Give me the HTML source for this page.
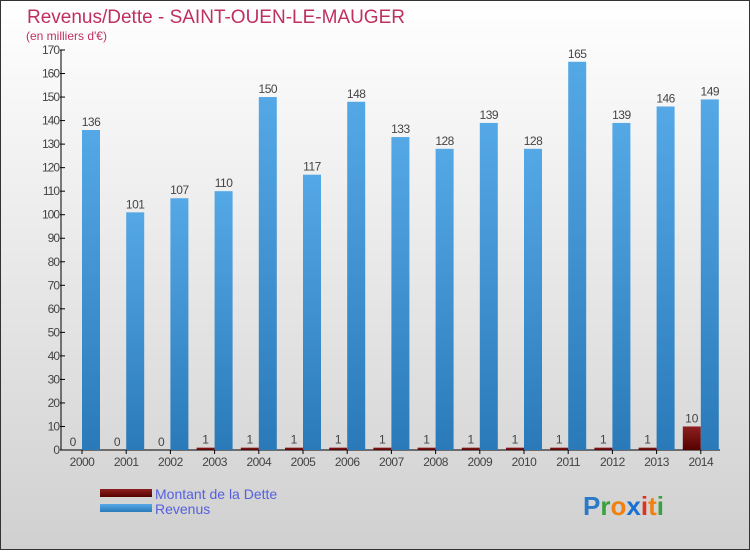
<!DOCTYPE html>
<html><head><meta charset="utf-8"><style>
body{margin:0}
#c{width:750px;height:550px;position:relative;font-family:"Liberation Sans",sans-serif}
</style></head><body>
<div id="c">
<svg width="750" height="550" xmlns="http://www.w3.org/2000/svg" id="svg">
<defs>
<linearGradient id="bg" x1="0" y1="0" x2="0" y2="1"><stop offset="0" stop-color="#ffffff"/><stop offset="1" stop-color="#d0d0d0"/></linearGradient>
<linearGradient id="rev" x1="0" y1="0" x2="0" y2="1"><stop offset="0" stop-color="#55a8e6"/><stop offset="1" stop-color="#2a7ab9"/></linearGradient>
<linearGradient id="debt" x1="0" y1="0" x2="0" y2="1"><stop offset="0" stop-color="#8e2020"/><stop offset="1" stop-color="#560000"/></linearGradient>
</defs>
<rect x="0.5" y="0.5" width="749" height="549" fill="url(#bg)" stroke="#333"/>
<text x="27" y="23" font-size="19" fill="#c0305f">Revenus/Dette - SAINT-OUEN-LE-MAUGER</text>
<text x="26" y="40" font-size="12" fill="#c0305f">(en milliers d'€)</text>
<g id="plot"></g>
<rect x="100" y="489" width="52" height="8" fill="url(#debt)"/>
<rect x="100" y="504" width="52" height="8" fill="url(#rev)"/>
<text x="155" y="499" font-size="14" fill="#5560e0">Montant de la Dette</text>
<text x="155" y="514" font-size="14" fill="#5560e0">Revenus</text>
<text x="583" y="515" font-size="26" font-weight="bold"><tspan fill="#2a7ac8">P</tspan><tspan fill="#3aa040">r</tspan><tspan fill="#f08010">o</tspan><tspan fill="#1a70d0">x</tspan><tspan fill="#e03020">i</tspan><tspan fill="#f08010">t</tspan><tspan fill="#3aa040">i</tspan></text>
</svg>
</div>
<script>
const years=["2000","2001","2002","2003","2004","2005","2006","2007","2008","2009","2010","2011","2012","2013","2014"];
const debt=[0,0,0,1,1,1,1,1,1,1,1,1,1,1,10];
const revenue=[136,101,107,110,150,117,148,133,128,139,128,165,139,146,149];
const yTicks=[0,10,20,30,40,50,60,70,80,90,100,110,120,130,140,150,160,170];
const NS="http://www.w3.org/2000/svg";
const g=document.getElementById('plot');
const y0=450,yMax=170,h=400,x0=61,step=44.2,first=82,bw=18;
const Y=v=>y0-v/yMax*h;
const X=i=>first+i*step;
function mk(t,a,txt){const e=document.createElementNS(NS,t);for(const k in a)e.setAttribute(k,a[k]);if(txt!==undefined)e.textContent=txt;g.appendChild(e);return e;}
let ax=mk('line',{x1:x0,y1:Y(yMax),x2:x0,y2:y0,stroke:'#000'});


let bx=mk('line',{x1:x0,y1:y0,x2:720,y2:y0,stroke:'#000'});


yTicks.forEach(v=>{
 let t=mk('line',{x1:x0-1,y1:Y(v),x2:x0+4,y2:Y(v),stroke:'#000'});
 
 
 let l=mk('text',{x:x0-2,y:Y(v)+4,'font-size':12,fill:'#444','text-anchor':'end','letter-spacing':'-1'},v);
 
 
});
years.forEach((yr,i)=>{
 const cx=X(i);
 let t=mk('line',{x1:cx,y1:y0,x2:cx,y2:y0+4,stroke:'#000'});
 
 
 let l=mk('text',{x:cx,y:466,'font-size':12,fill:'#444','text-anchor':'middle','letter-spacing':'-0.5'},yr);
 
 
 const dh=Math.max(y0-Y(debt[i]),debt[i]>0?2:0);
 let d=mk('rect',{x:cx-bw,y:y0-dh,width:bw,height:dh,fill:'url(#debt)'});
 
 
 let dl=mk('text',{x:cx-bw/2,y:y0-dh-4,'font-size':12,fill:'#444','text-anchor':'middle'},debt[i]);
 
 
 let r=mk('rect',{x:cx,y:Y(revenue[i]),width:bw,height:y0-Y(revenue[i]),fill:'url(#rev)'});
 
 
 let rl=mk('text',{x:cx+bw/2,y:Y(revenue[i])-4,'font-size':12,fill:'#444','text-anchor':'middle','letter-spacing':'-0.5'},revenue[i]);
 
 
});
</script>
</body></html>
